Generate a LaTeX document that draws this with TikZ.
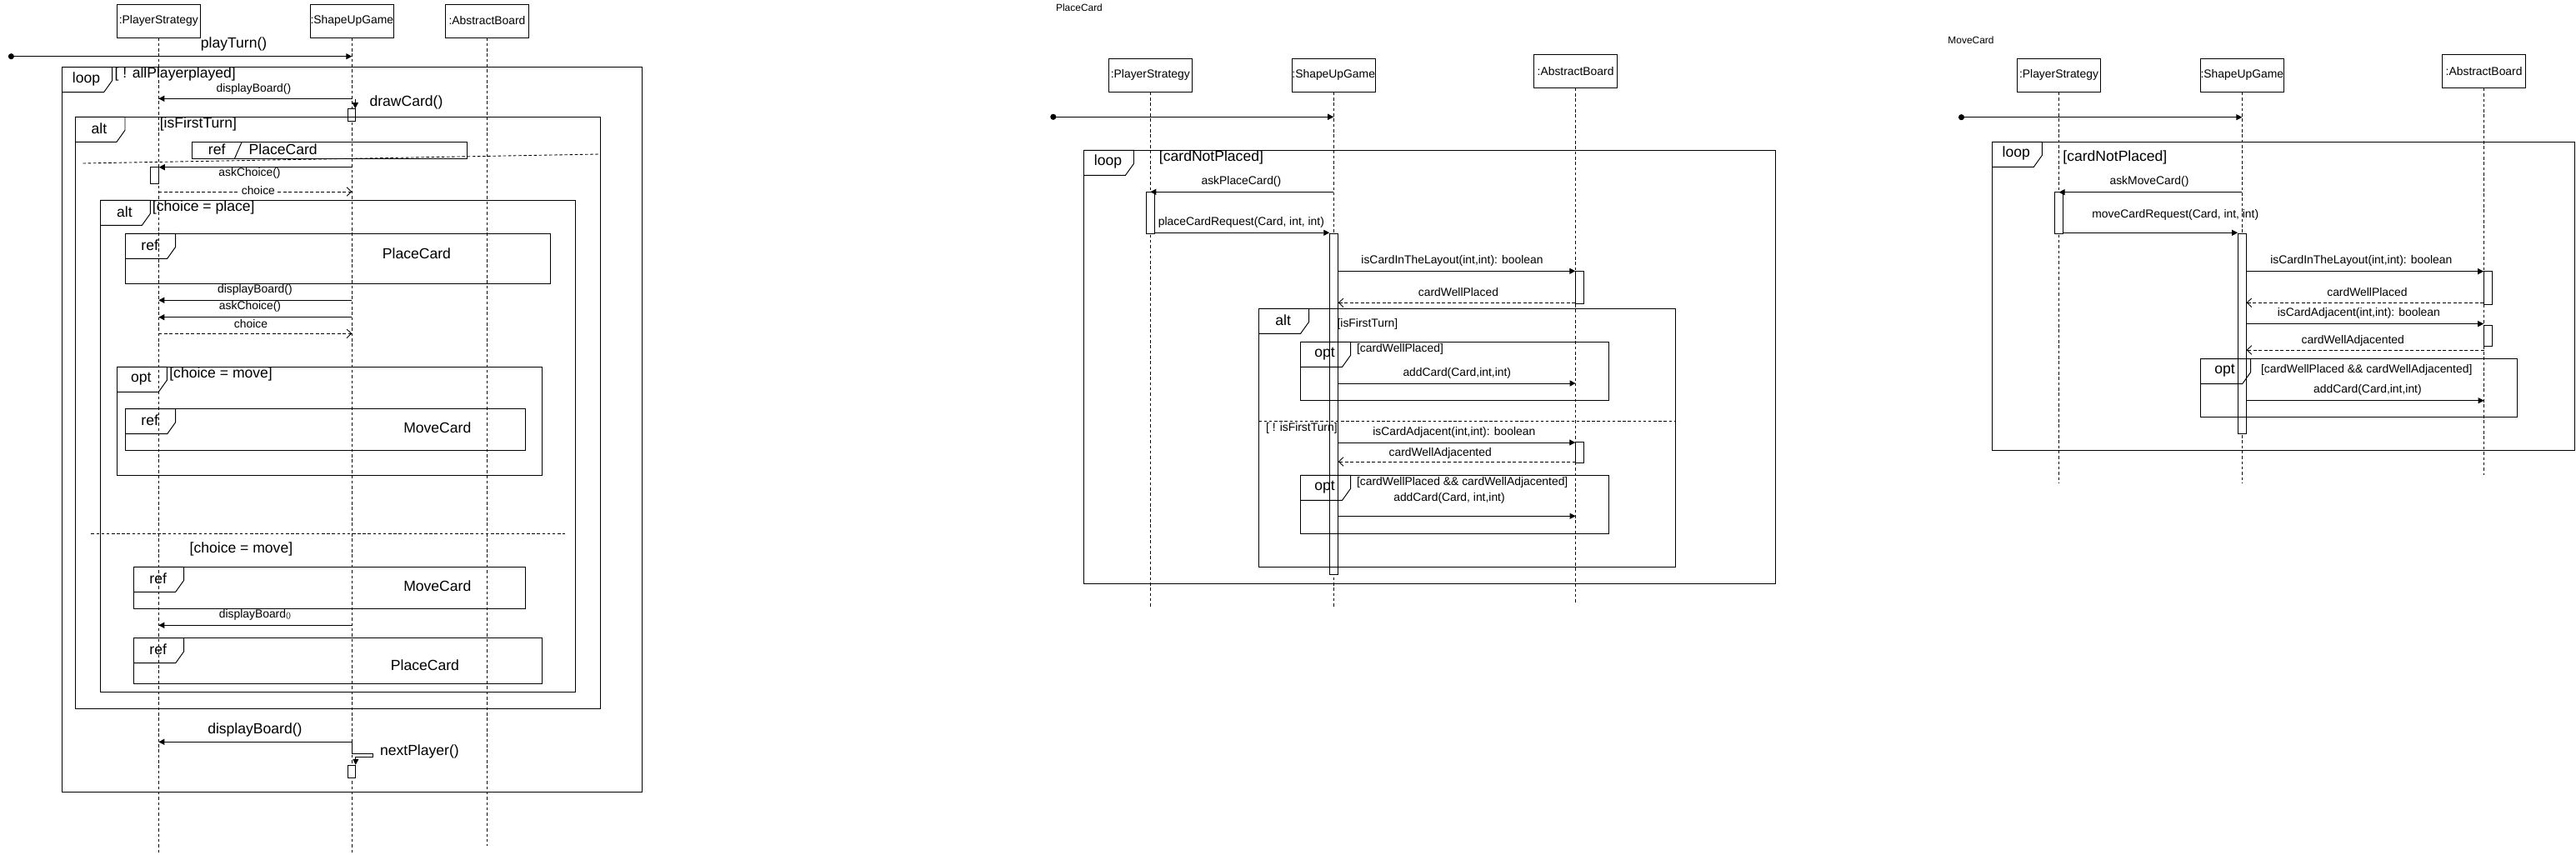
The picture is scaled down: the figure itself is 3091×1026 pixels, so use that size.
\documentclass[tikz,border=0pt]{standalone}
\usepackage{fontspec}
\setmainfont{Liberation Sans}
\usetikzlibrary{arrows.meta}

\tikzset{
  lifebox/.style={draw, line width=0.55pt, minimum width=2cm, minimum height=0.8cm, inner sep=0pt, font=\fontsize{7.9}{9}\selectfont},
  lifeline/.style={line width=0.45pt, dash pattern=on 2pt off 1.6pt},
  frame/.style={line width=0.55pt},
  act/.style={draw, fill=white, line width=0.55pt, minimum width=0.19cm, inner sep=0pt},
  msg/.style={line width=0.55pt, -{Triangle[length=4pt,width=4pt]}},
  ret/.style={line width=0.5pt, dash pattern=on 2.2pt off 1.5pt, -{Straight Barb[length=3.2pt,width=6pt]}},
  found/.style={line width=0.55pt, {Circle[length=4pt]}-{Triangle[length=4pt,width=4pt]}},
  sep/.style={line width=0.5pt, dash pattern=on 2pt off 1.5pt},
  bigtxt/.style={inner sep=0pt, font=\fontsize{10}{12}\selectfont},
  smalltxt/.style={inner sep=0pt, font=\fontsize{7.9}{9.5}\selectfont},
  titletxt/.style={inner sep=0pt, font=\fontsize{6.8}{8}\selectfont}
}

% fragment tab: x, y, name, keyword
\newcommand{\fragtab}[4]{%
  \draw[frame] (#1,#2) -- ++(60,0) -- ++(0,16) -- ++(-10,14) -- ++(-50,0);
  \node[bigtxt] (#3) at (#1+29,#2+14) {#4};}

\begin{document}
\begin{tikzpicture}[x=0.02cm, y=-0.02cm]
    \useasboundingbox (0,0) rectangle (3091,1026);

    \node[lifebox] (ps1) at (190.3,25) {:PlayerStrategy};
    \node[lifebox] (sug1) at (422.3,25) {:ShapeUpGame};
    \node[lifebox] (ab1) at (584.5,25) {:AbstractBoard};
    \coordinate (ps1end) at (190.3,1025);
    \coordinate (sug1end) at (422.3,1025);
    \coordinate (ab1end) at (584.5,1015);
    \draw[lifeline] (ps1) -- (ps1end);
    \draw[lifeline] (sug1) -- (sug1end);
    \draw[lifeline] (ab1) -- (ab1end);

    \coordinate (start1) at (9.9,67.7);
    \draw[found] (start1) -- (sug1 |- start1);
    \node[bigtxt] (playturn) at (280.6,53) {playTurn()};

    \draw[frame] (74.6,80.7) rectangle (770,950);
    \fragtab{74.6}{80.7}{loop1}{loop}
    \node[bigtxt, anchor=west] (guardloop1) at (137.3,89) {[ ! allPlayerplayed]};

    \draw[msg] (sug1 |- 0,118.3) -- (ps1 |- 0,118.3);
    \node[smalltxt] (disp1) at (304.4,106.7) {displayBoard()};

    \node[act, minimum height=0.29cm] (drawact) at (422.1,138) {};
    \coordinate (drawtop) at (426.3,119);
    \draw[msg] (drawtop) -- (drawtop |- drawact.north);
    \node[bigtxt] (drawcard) at (487.5,123.3) {drawCard()};

    \draw[frame] (90,140.3) rectangle (720.3,850);
    \fragtab{90}{140.3}{alt1}{alt}
    \node[bigtxt, anchor=west] (guardalt1) at (191.5,149) {[isFirstTurn]};

    \draw[frame] (230.3,170.7) rectangle (560.6,190);
    \draw[frame] (290,170.7) -- (281.6,190);
    \node[bigtxt] (ref0) at (260.2,179.3) {ref};
    \node[bigtxt] (place0) at (339.7,179.3) {PlaceCard};

    \draw[sep] (99.5,196) -- (720.3,185);

    \node[act, minimum height=0.4cm] (choiceact) at (185.5,210.3) {};
    \draw[msg] (sug1 |- 0,200.7) -- (choiceact.east |- 0,200.7);
    \node[smalltxt] (ask1) at (299.5,208.3) {askChoice()};
    \draw[ret] (ps1 |- 0,230) -- (sug1 |- 0,230);
    \node[smalltxt, fill=white, inner sep=1pt] (choice1) at (309.9,228.3) {choice};

    \draw[frame] (120.4,240.3) rectangle (690.4,830.3);
    \fragtab{120.4}{240.3}{alt2}{alt}
    \node[bigtxt, anchor=west] (guardalt2) at (182.6,249) {[choice = place]};

    \draw[frame] (150.7,280.3) rectangle (660.1,340);
    \fragtab{150.7}{280.3}{ref1}{ref}
    \node[bigtxt] (place1) at (499.9,304) {PlaceCard};

    \draw[msg] (sug1 |- 0,360.3) -- (ps1 |- 0,360.3);
    \node[smalltxt] (disp2) at (305.9,348.3) {displayBoard()};
    \draw[msg] (sug1 |- 0,380.7) -- (ps1 |- 0,380.7);
    \node[smalltxt] (ask2) at (300,368.3) {askChoice()};
    \draw[ret] (ps1 |- 0,400.3) -- (sug1 |- 0,400.3);
    \node[smalltxt] (choice2) at (301,388.3) {choice};

    \draw[frame] (140.3,440.3) rectangle (650.2,570);
    \fragtab{140.3}{440.3}{opt1}{opt}
    \node[bigtxt, anchor=west] (guardopt1) at (203,449) {[choice = move]};

    \draw[frame] (150.7,490.7) rectangle (630.3,540.3);
    \fragtab{150.7}{490.7}{ref2}{ref}
    \node[bigtxt] (move1) at (524.8,513.7) {MoveCard};

    \draw[sep] (109.4,640) -- (677.5,640);
    \node[bigtxt, anchor=west] (guardalt2b) at (227.3,659.3) {[choice = move]};

    \draw[frame] (160.7,680.3) rectangle (630.3,730.3);
    \fragtab{160.7}{680.3}{ref3}{ref}
    \node[bigtxt] (move2) at (524.8,703.7) {MoveCard};

    \draw[msg] (sug1 |- 0,750.3) -- (ps1 |- 0,750.3);
    \node[smalltxt] (disp3) at (305.9,738.3) {displayBoard{\fontsize{5}{6}\selectfont()}};

    \draw[frame] (160.7,765.7) rectangle (650.2,820.3);
    \fragtab{160.7}{765.7}{ref4}{ref}
    \node[bigtxt] (place2) at (509.9,798.7) {PlaceCard};

    \draw[msg] (sug1 |- 0,890.3) -- (ps1 |- 0,890.3);
    \node[bigtxt] (disp4) at (305.9,876.3) {displayBoard()};

    \node[act, minimum height=0.3cm] (nextact) at (422.1,925.8) {};
    \coordinate (nextturn) at (426.8,908.3);
    \draw[msg] (sug1 |- 0,890.3) -- (sug1 |- 0,904) -- (447.7,904) -- (447.7,908.3) -- (nextturn) -- (nextturn |- nextact.north);
    \node[bigtxt] (nextplayer) at (503.4,902.3) {nextPlayer()};


    \node[titletxt] (titleplace) at (1295,9) {PlaceCard};

    \node[lifebox] (ps2) at (1380.3,90.3) {:PlayerStrategy};
    \node[lifebox] (sug2) at (1600.2,90.3) {:ShapeUpGame};
    \node[lifebox] (ab2) at (1890.6,85.3) {:AbstractBoard};
    \coordinate (ps2end) at (1380.3,730);
    \coordinate (sug2end) at (1600.2,730);
    \coordinate (ab2end) at (1890.6,723);
    \draw[lifeline] (ps2) -- (ps2end);
    \draw[lifeline] (sug2) -- (sug2end);
    \draw[lifeline] (ab2) -- (ab2end);

    \coordinate (start2) at (1260.3,140.3);
    \draw[found] (start2) -- (sug2 |- start2);

    \draw[frame] (1300.5,180.3) rectangle (2130.6,700);
    \fragtab{1300.5}{180.3}{loop2}{loop}
    \node[bigtxt, anchor=west] (guardloop2) at (1390.6,189.3) {[cardNotPlaced]};

    \node[act, minimum height=1cm] (psact2) at (1380.6,255.3) {};
    \node[act, minimum height=8.19cm] (sugact2) at (1600.5,485.2) {};
    \node[act, minimum height=0.79cm] (abact2a) at (1895.5,345.2) {};
    \node[act, minimum height=0.51cm] (abact2b) at (1895.5,543) {};

    \draw[msg] (sug2 |- 0,230.3) -- (ps2 |- 0,230.3);
    \node[smalltxt] (askplace) at (1489.4,218.3) {askPlaceCard()};
    \draw[msg] (psact2.east |- 0,279.3) -- (sugact2.west |- 0,279.3);
    \node[smalltxt] (placereq) at (1489.4,267.3) {placeCardRequest(Card, int, int)};
    \draw[msg] (sugact2.east |- 0,325.3) -- (abact2a.west |- 0,325.3);
    \node[smalltxt] (layout2) at (1742.5,313.3) {isCardInTheLayout(int,int): boolean};
    \draw[ret] (abact2a.west |- 0,363.3) -- (sugact2.east |- 0,363.3);
    \node[smalltxt] (wellplaced2) at (1750,351) {cardWellPlaced};

    \draw[frame] (1510.6,370.3) rectangle (2010.6,680.3);
    \fragtab{1510.6}{370.3}{alt3}{alt}
    \node[smalltxt, anchor=west] (guardalt3) at (1604.2,389.3) {[isFirstTurn]};

    \draw[frame] (1560.6,410.3) rectangle (1930.2,480);
    \fragtab{1560.6}{410.3}{opt2}{opt}
    \node[smalltxt, anchor=west] (guardopt2) at (1627.7,419) {[cardWellPlaced]};
    \draw[msg] (sugact2.east |- 0,460) -- (ab2 |- 0,460);
    \node[smalltxt] (addcard2) at (1748.3,448) {addCard(Card,int,int)};

    \draw[sep] (1510.6,505.3) -- (2010.6,505.3);
    \node[smalltxt, anchor=west] (guardalt3b) at (1518.7,514) {[ ! isFirstTurn]};

    \draw[msg] (sugact2.east |- 0,531) -- (abact2b.west |- 0,531);
    \node[smalltxt] (adjacent2) at (1744.8,519.3) {isCardAdjacent(int,int): boolean};
    \draw[ret] (ab2 |- 0,554) -- (sugact2.east |- 0,554);
    \node[smalltxt] (welladj2) at (1728.2,543.7) {cardWellAdjacented};

    \draw[frame] (1560.6,570.3) rectangle (1930.2,640);
    \fragtab{1560.6}{570.3}{opt3}{opt}
    \node[smalltxt, anchor=west] (guardopt3) at (1627.7,579) {[cardWellPlaced \&\& cardWellAdjacented]};
    \draw[msg] (sugact2.east |- 0,619.3) -- (ab2 |- 0,619.3);
    \node[smalltxt] (addcard3) at (1739,598.3) {addCard(Card, int,int)};


    \node[titletxt] (titlemove) at (2365,48.6) {MoveCard};

    \node[lifebox] (ps3) at (2470.5,90.4) {:PlayerStrategy};
    \node[lifebox] (sug3) at (2690.3,90.4) {:ShapeUpGame};
    \node[lifebox] (ab3) at (2980.6,85.4) {:AbstractBoard};
    \coordinate (ps3end) at (2470.5,580);
    \coordinate (sug3end) at (2690.3,580);
    \coordinate (ab3end) at (2980.6,570);
    \draw[lifeline] (ps3) -- (ps3end);
    \draw[lifeline] (sug3) -- (sug3end);
    \draw[lifeline] (ab3) -- (ab3end);

    \coordinate (start3) at (2350,140.7);
    \draw[found] (start3) -- (sug3 |- start3);

    \draw[frame] (2390.3,170.4) rectangle (3089.5,540.4);
    \fragtab{2390.3}{170.4}{loop3}{loop}
    \node[bigtxt, anchor=west] (guardloop3) at (2475,188.6) {[cardNotPlaced]};

    \node[act, minimum height=0.99cm] (psact3) at (2470.3,255.6) {};
    \node[act, minimum height=4.79cm] (sugact3) at (2690.3,400.4) {};
    \node[act, minimum height=0.79cm] (abact3a) at (2985.4,345.6) {};
    \node[act, minimum height=0.5cm] (abact3b) at (2985.4,402.9) {};

    \draw[msg] (sug3 |- 0,230.7) -- (ps3 |- 0,230.7);
    \node[smalltxt] (askmove) at (2579,217.5) {askMoveCard()};
    \draw[msg] (psact3.east |- 0,279.3) -- (sugact3.west |- 0,279.3);
    \node[smalltxt] (movereq) at (2610.3,257.9) {moveCardRequest(Card, int, int)};
    \draw[msg] (sugact3.east |- 0,325.7) -- (abact3a.west |- 0,325.7);
    \node[smalltxt] (layout3) at (2833.3,313.2) {isCardInTheLayout(int,int): boolean};
    \draw[ret] (abact3a.west |- 0,363.2) -- (sugact3.east |- 0,363.2);
    \node[smalltxt] (wellplaced3) at (2840.4,350.7) {cardWellPlaced};
    \draw[msg] (sugact3.east |- 0,388.6) -- (abact3b.west |- 0,388.6);
    \node[smalltxt] (adjacent3) at (2830.3,376) {isCardAdjacent(int,int): boolean};
    \draw[ret] (ab3 |- 0,420) -- (sugact3.east |- 0,420);
    \node[smalltxt] (welladj3) at (2823.2,409.3) {cardWellAdjacented};

    \draw[frame] (2640.6,430.7) rectangle (3020,500.4);
    \fragtab{2640.6}{430.7}{opt4}{opt}
    \node[smalltxt, anchor=west] (guardopt4) at (2712.7,444) {[cardWellPlaced \&\& cardWellAdjacented]};
    \draw[msg] (sugact3.east |- 0,480.7) -- (ab3 |- 0,480.7);
    \node[smalltxt] (addcard4) at (2840.9,467.9) {addCard(Card,int,int)};
\end{tikzpicture}
\end{document}
